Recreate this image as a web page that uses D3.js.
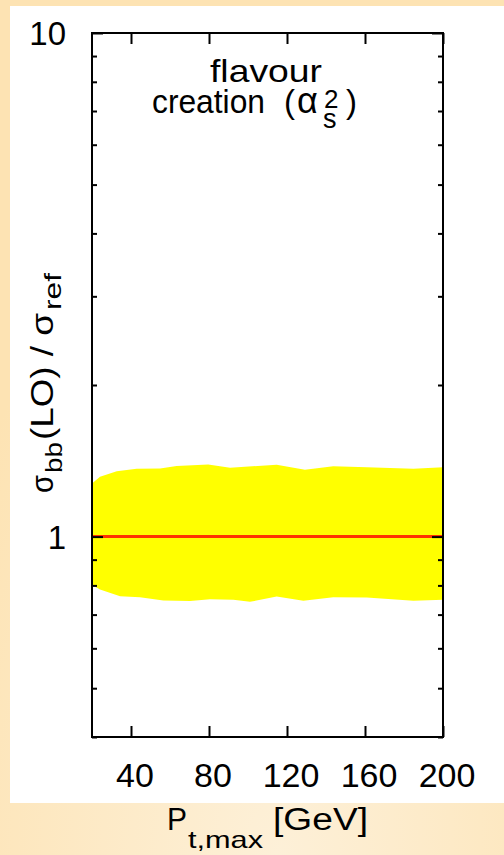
<!DOCTYPE html>
<html>
<head>
<meta charset="utf-8">
<script src="https://cdn.jsdelivr.net/npm/d3@7"></script>
<style>
html,body{margin:0;padding:0;background:#fde6bb;}
svg{display:block;}
text{font-family:"Liberation Sans",Arial,Helvetica,sans-serif;fill:#000;}
</style>
</head>
<body>
<script>
// ---- data ----
const xDomain = [20, 200];
const yDomain = [0.4, 10];
const xTicks = [40, 80, 120, 160, 200];
const yMajorTicks = [1, 10];
const yMajorLabels = ["1", "10"];
const yMinorTicks = [0.4, 0.5, 0.6, 0.7, 0.8, 0.9, 2, 3, 4, 5, 6, 7, 8, 9];
const bandUpperX = [20, 21.2, 24.1, 32.7, 42.9, 54.9, 63.4, 79.6, 90.8, 114.7, 129.2, 143.7, 160.9, 184.8, 200];
const bandUpper  = [1.275, 1.287, 1.314, 1.348, 1.364, 1.366, 1.381, 1.391, 1.370, 1.389, 1.358, 1.379, 1.373, 1.364, 1.373];
const bandLowerX = [20, 21.2, 24.1, 34.4, 44.6, 56.6, 70.3, 80.5, 92.5, 101.0, 114.7, 128.4, 143.7, 160.9, 184.8, 200];
const bandLower  = [0.80, 0.797, 0.785, 0.761, 0.758, 0.747, 0.745, 0.751, 0.749, 0.742, 0.760, 0.746, 0.758, 0.757, 0.746, 0.749];
const refLineX = [20, 200];
const refLineY = [1, 1];

// ---- layout ----
const W = 504, H = 855;
const m = {left: 92, right: 443, top: 33, bottom: 737};

const svg = d3.select("body").append("svg").attr("width", W).attr("height", H);
const defs = svg.append("defs");
const grad = defs.append("radialGradient").attr("id", "bg").attr("cx", "55%").attr("cy", "100%").attr("r", "75%");
grad.append("stop").attr("offset", "0%").attr("stop-color", "#fdf0d8");
grad.append("stop").attr("offset", "100%").attr("stop-color", "#fde3b3");
svg.append("rect").attr("width", W).attr("height", H).attr("fill", "url(#bg)");
svg.append("rect").attr("x", 10).attr("y", 6).attr("width", W - 10).attr("height", 803 - 6).attr("fill", "#ffffff");

const x = d3.scaleLinear().domain(xDomain).range([m.left, m.right]);
const y = d3.scaleLog().domain(yDomain).range([m.bottom, m.top]);

// band
const pts = bandUpperX.map((d, i) => [d, bandUpper[i]])
  .concat(bandLowerX.map((d, i) => [d, bandLower[i]]).reverse());
const line = d3.line().x(d => x(d[0])).y(d => y(d[1])).curve(d3.curveLinear);
svg.append("path").attr("d", line(pts) + "Z").attr("fill", "#ffff00");

// reference line
svg.append("path")
  .attr("d", line(refLineX.map((d, i) => [d, refLineY[i]])))
  .attr("stroke", "#ff3300").attr("stroke-width", 3).attr("fill", "none");

// axes (ticks inward, mirrored)
const g = svg.append("g");
const majLen = 11, minLen = 5;
const xBottom = d3.axisBottom(x).tickValues(xTicks).tickSize(-majLen).tickFormat("");
const xTop = d3.axisTop(x).tickValues(xTicks).tickSize(-majLen).tickFormat("");
g.append("g").attr("transform", `translate(0,${m.bottom})`).call(xBottom);
g.append("g").attr("transform", `translate(0,${m.top})`).call(xTop);
const yLeftMin = d3.axisLeft(y).tickValues(yMinorTicks).tickSize(-minLen).tickFormat("");
const yRightMin = d3.axisRight(y).tickValues(yMinorTicks).tickSize(-minLen).tickFormat("");
const yLeftMaj = d3.axisLeft(y).tickValues(yMajorTicks).tickSize(-majLen).tickFormat("");
const yRightMaj = d3.axisRight(y).tickValues(yMajorTicks).tickSize(-majLen).tickFormat("");
g.append("g").attr("transform", `translate(${m.left},0)`).call(yLeftMin);
g.append("g").attr("transform", `translate(${m.right},0)`).call(yRightMin);
g.append("g").attr("transform", `translate(${m.left},0)`).call(yLeftMaj);
g.append("g").attr("transform", `translate(${m.right},0)`).call(yRightMaj);
g.selectAll(".domain").remove();
g.selectAll(".tick line").attr("stroke", "#000").attr("stroke-width", 2);

// frame
svg.append("rect").attr("x", m.left).attr("y", m.top)
  .attr("width", m.right - m.left).attr("height", m.bottom - m.top)
  .attr("fill", "none").attr("stroke", "#000").attr("stroke-width", 2);

// tick labels
svg.append("g").selectAll("text").data(xTicks).join("text")
  .attr("x", d => x(d) + 4).attr("y", 787)
  .attr("text-anchor", "middle").attr("font-size", 34).text(d => d);
svg.append("g").selectAll("text").data(yMajorTicks).join("text")
  .attr("x", 66).attr("y", d => y(d) + 12)
  .attr("text-anchor", "end").attr("font-size", 33).text((d, i) => yMajorLabels[i]);

// annotation
svg.append("text").attr("font-size", 32).attr("x", 210).attr("y", 82)
  .attr("textLength", 112).attr("lengthAdjust", "spacingAndGlyphs").text("flavour");
svg.append("text").attr("font-size", 33).attr("x", 152).attr("y", 113)
  .attr("textLength", 113).attr("lengthAdjust", "spacingAndGlyphs").text("creation");
svg.append("text").attr("font-size", 33).attr("x", 284).attr("y", 113).text("(");
svg.append("text").attr("font-size", 36).attr("x", 297).attr("y", 113).text("α");
svg.append("text").attr("font-size", 27).attr("x", 323).attr("y", 128).text("s");
svg.append("text").attr("font-size", 26).attr("x", 324).attr("y", 108).text("2");
svg.append("text").attr("font-size", 33).attr("x", 346).attr("y", 113).text(")");

// y axis label (rotated pieces)
function yPiece(txt, yStart, base, size, len) {
  const t = svg.append("text").attr("transform", `translate(${base},${yStart}) rotate(-90)`)
    .attr("font-size", size).text(txt);
  if (len) t.attr("textLength", len).attr("lengthAdjust", "spacingAndGlyphs");
}
yPiece("σ", 493, 53, 32, 18);
yPiece("bb", 473, 62, 24, 31);
yPiece("(LO) / σ", 440, 53, 32, 127);
yPiece("ref", 310, 61, 24, 37);

// x axis label
svg.append("text").attr("x", 167).attr("y", 830).attr("font-size", 31)
  .attr("textLength", 20).attr("lengthAdjust", "spacingAndGlyphs").text("P");
svg.append("text").attr("x", 188).attr("y", 848).attr("font-size", 24)
  .attr("textLength", 75).attr("lengthAdjust", "spacingAndGlyphs").text("t,max");
svg.append("text").attr("x", 273).attr("y", 830).attr("font-size", 31)
  .attr("textLength", 95).attr("lengthAdjust", "spacingAndGlyphs").text("[GeV]");
</script>
</body>
</html>
